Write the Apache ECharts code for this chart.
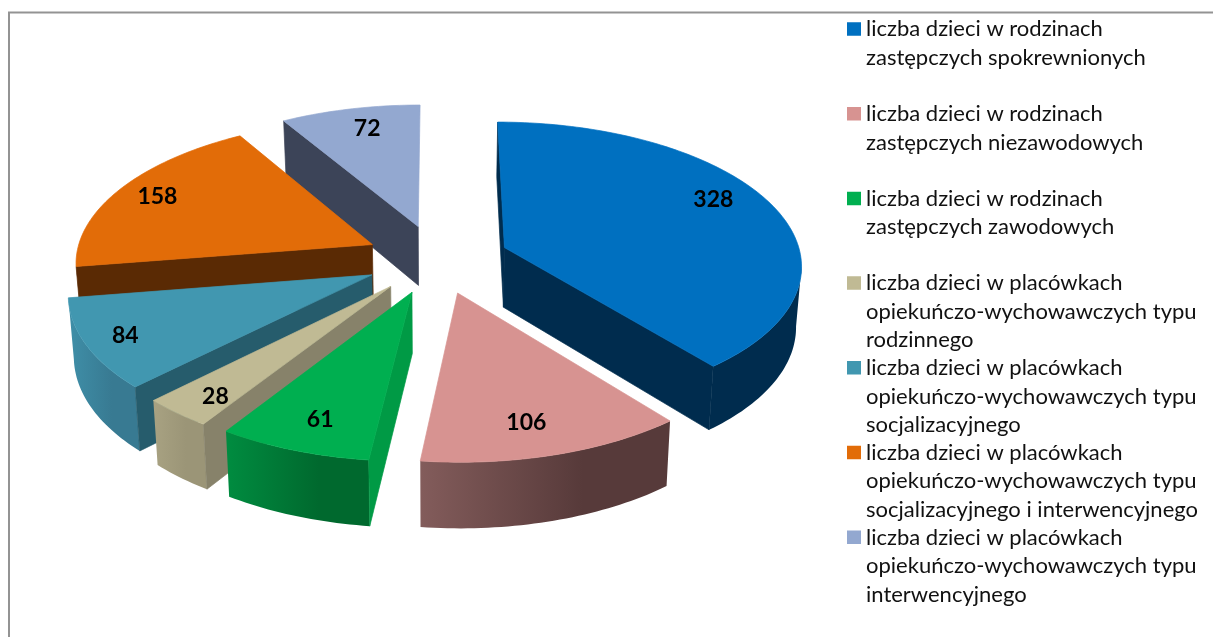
<!DOCTYPE html>
<html>
<head>
<meta charset="utf-8">
<style>html,body{margin:0;padding:0;background:#fff}#c{width:1213px;height:637px}</style>
<script src="https://cdn.jsdelivr.net/npm/echarts@6/dist/echarts.min.js"></script>
</head>
<body>
<div id="c"></div>
<script>
const categories = [
  "liczba dzieci w rodzinach\nzastępczych spokrewnionych",
  "liczba dzieci w rodzinach\nzastępczych niezawodowych",
  "liczba dzieci w rodzinach\nzastępczych zawodowych",
  "liczba dzieci w placówkach\nopiekuńczo-wychowawczych typu\nrodzinnego",
  "liczba dzieci w placówkach\nopiekuńczo-wychowawczych typu\nsocjalizacyjnego",
  "liczba dzieci w placówkach\nopiekuńczo-wychowawczych typu\nsocjalizacyjnego i interwencyjnego",
  "liczba dzieci w placówkach\nopiekuńczo-wychowawczych typu\ninterwencyjnego"
];
const values = [328, 106, 61, 28, 84, 158, 72];

const topColors  = ['#0070C0', '#D79391', '#00AF50', '#C0BA94', '#4197B0', '#E26C08', '#93A8D0'];
const cutColors  = ['#002C4E', '#5A3C3C', '#009A45', '#87826A', '#265C6C', '#5A2A04', '#3C4458'];
const rimLeft    = ['#002C4E', '#835C5B', '#008C40', '#A8A282', '#3F8FA8', '#5A2A04', '#3C4458'];
const rimRight   = ['#002C4E', '#573A3A', '#00692E', '#9B9577', '#387A92', '#5A2A04', '#3C4458'];
const paintOrder = [1, 2, 7, 6, 5, 4, 3];          // back-to-front rank of each slice
const labelDepth = [0.83, 0.81, 0.82, 0.86, 0.87, 0.85, 0.81];
const labelTurn  = [-6.3, 1.9, -0.8, -1.7, -0.3, 0, 1.4];   // degrees off the slice's middle

// Simple perspective camera for the tilted pie
const cx = 437, cy = 259, rx = 297, ry = 142, persp = 0.112, pull = 0.243;
const total = values.reduce((a, b) => a + b, 0);
const cumulative = values.map((_, i) => values.slice(0, i).reduce((a, b) => a + b, 0));
const rad = v => v / total * Math.PI * 2;

function project(U, V, lower) {
  const d = 1 - persp * V;
  let x = cx + rx * U / d;
  let y = cy + ry * V / d;
  if (lower) { x = cx + (x - cx) * 0.985; y += 60 + 5 * V; }
  return [x, y];
}

function makeRender(i) {
  return function (params, api) {
    const start = rad(cumulative[i]);
    const sweep = rad(api.value(0));
    const mid = start + sweep / 2;
    const ox = Math.sin(mid) * pull, oy = -Math.cos(mid) * pull;
    const rim = (t, low) => project(ox + Math.sin(t), oy - Math.cos(t), low);
    const steps = Math.max(8, Math.round(sweep / 0.02));
    const arcT = [], arcB = [];
    for (let k = 0; k <= steps; k++) {
      const t = start + sweep * k / steps;
      arcT.push(rim(t, false));
      arcB.push(rim(t, true));
    }
    const tipT = project(ox, oy, false), tipB = project(ox, oy, true);
    const lastT = arcT[steps], lastB = arcB[steps];
    const solid = (c) => ({ fill: c, stroke: c, lineWidth: 0.7 });

    // the outer wall: only the part of the arc facing the viewer (x falling as the angle grows)
    const frontT = [], frontB = [];
    for (let k = 0; k <= steps; k++) {
      const falling = (k < steps && arcT[k + 1][0] < arcT[k][0]) || (k > 0 && arcT[k][0] < arcT[k - 1][0]);
      if (falling) { frontT.push(arcT[k]); frontB.push(arcB[k]); }
    }
    const children = [];
    if (frontT.length > 1) {
      const xs = frontT.map(p => p[0]);
      const x0 = Math.min.apply(null, xs), x1 = Math.max.apply(null, xs);
      const rimFill = new echarts.graphic.LinearGradient(x0, 0, x1, 0, [
        { offset: 0, color: rimLeft[i] }, { offset: 0.65, color: rimRight[i] }, { offset: 1, color: rimRight[i] }
      ], true);
      children.push({ type: 'polygon', shape: { points: frontT.concat(frontB.slice().reverse()) }, style: { fill: rimFill } });
    }

    // the two straight cut faces: only when the extrusion falls outside the top surface
    const rimMid = arcT[Math.round(steps / 2)];
    [[arcT[0], arcB[0]], [lastT, lastB]].forEach(pair => {
      const ex = pair[0][0] - tipT[0], ey = pair[0][1] - tipT[1];
      const side = ex * (rimMid[1] - tipT[1]) - ey * (rimMid[0] - tipT[0]);
      if (Math.abs(ex) > 3 && side * ex < 0) {
        children.push({ type: 'polygon', shape: { points: [tipT, pair[0], pair[1], tipB] }, style: solid(cutColors[i]) });
      }
    });

    children.push({ type: 'polygon', shape: { points: [tipT].concat(arcT) }, style: solid(topColors[i]) });

    const labAngle = mid + labelTurn[i] * Math.PI / 180;
    const lab = project(ox + Math.sin(labAngle) * labelDepth[i], oy - Math.cos(labAngle) * labelDepth[i], false);
    children.push({ type: 'text', style: {
      x: lab[0], y: lab[1], text: String(api.value(0)), align: 'center', verticalAlign: 'middle',
      font: 'bold 23px Lato, sans-serif', fill: '#000'
    } });
    return { type: 'group', children: children };
  };
}

const chart = echarts.init(document.getElementById('c'), null, { renderer: 'canvas' });
chart.setOption({
  animation: false,
  backgroundColor: '#fff',
  graphic: [{
    type: 'polyline', silent: true,
    shape: { points: [[9, 637], [9, 12.5], [1213, 12.5]] },
    style: { stroke: '#939393', lineWidth: 2, fill: null }
  }],
  legend: {
    orient: 'vertical', left: 847, top: 15, padding: 0, itemGap: -0.8,
    itemWidth: 14, itemHeight: 85, selectedMode: false, symbolKeepAspect: false,
    icon: 'path://M0,0L0,0Z M0,7H14V20.5H0Z M0,85L0,85Z',
    data: categories,
    formatter: name => {
      const lines = name.split('\n');
      while (lines.length < 3) lines.push('\u00a0');
      return lines.join('\n');
    },
    textStyle: { fontFamily: 'Lato, sans-serif', fontSize: 22, lineHeight: 28.5, color: '#111' }
  },
  series: categories.map((name, i) => ({
    type: 'custom',
    name: name,
    coordinateSystem: 'none',
    z: paintOrder[i],
    silent: true,
    clip: false,
    itemStyle: { color: topColors[i] },
    data: [[values[i]]],
    renderItem: makeRender(i)
  }))
});
</script>
</body>
</html>
